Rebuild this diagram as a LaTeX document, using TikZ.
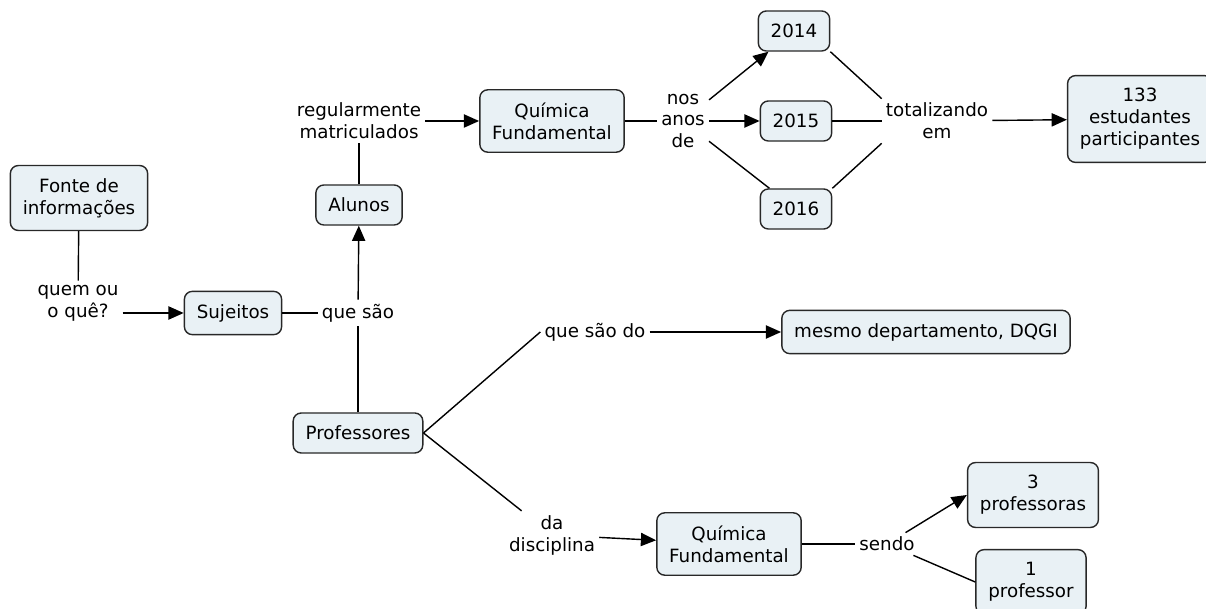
\documentclass[tikz,border=0pt]{standalone}
\usepackage{fontspec}
\setmainfont{DejaVu Sans}
\usetikzlibrary{arrows.meta}
\definecolor{conceptfill}{RGB}{233,241,245}
\definecolor{conceptline}{RGB}{40,40,40}
\tikzstyle{concept}=[draw=conceptline, fill=conceptfill, rounded corners=0.2cm, align=center, inner xsep=0.31cm, inner ysep=0.32cm, minimum height=1cm]
\tikzstyle{link}=[align=center, inner sep=0.09cm]

\begin{document}
\begin{tikzpicture}[x=0.025cm,y=-0.025cm,line width=1pt,>={Triangle[length=0.38cm,width=0.33cm]},font=\fontsize{13}{15.6}\selectfont]
\useasboundingbox (0,0) rectangle (1206,609);
\node [concept] (fonte) at (79,198) {Fonte de\\informações};
\node [link] (quem) at (78,303) {quem ou\\o quê?};
\node [concept] (suj) at (233,313) {Sujeitos};
\node [link] (qs) at (358,313) {que são};
\node [concept] (alunos) at (359,205) {Alunos};
\node [link] (reg) at (359,121) {regularmente\\matriculados};
\node [concept] (qf1) at (552,121) {Química\\Fundamental};
\node [link] (anos) at (683,121) {nos\\anos\\de};
\node [concept] (y14) at (794,31) {2014};
\node [concept] (y15) at (796,121) {2015};
\node [concept] (y16) at (796,209) {2016};
\node [link] (tot) at (937,121) {totalizando\\em};
\node [concept] (n133) at (1140,119) {133\\estudantes\\participantes};
\node [concept] (prof) at (358,433) {Professores};
\node [link] (qsdo) at (595,332) {que são do};
\node [concept] (mesmo) at (926,332) {mesmo departamento, DQGI};
\node [link] (dadisc) at (552,535) {da\\disciplina};
\node [concept] (qf2) at (729,544) {Química\\Fundamental};
\node [link] (sendo) at (887,544) {sendo};
\node [concept] (prof3) at (1033,495) {3\\professoras};
\node [concept] (prof1) at (1031,582) {1\\professor};

\draw (fonte) -- (quem);
\draw[->] (quem.east |- suj) -- (suj);
\draw (suj) -- (qs);
\draw[->] (qs) -- (alunos);
\draw (prof) -- (qs);
\draw (alunos) -- (reg);
\draw[->] (reg) -- (qf1);
\draw (qf1) -- (anos);
\path[->] (anos) edge (y14)
          (anos) edge (y15);
\draw (anos) -- (y16);
\draw (y14.south east) -- (tot.north west);
\draw (y15) -- (tot);
\draw (y16.north east) -- (tot.south west);
\draw[->] (tot) -- (n133);
\draw (prof.east) -- (qsdo.west);
\draw[->] (qsdo) -- (mesmo);
\draw (prof.east) -- (dadisc);
\draw[->] (dadisc) -- (qf2);
\draw (qf2) -- (sendo);
\draw[->] (sendo) -- (prof3.west);
\draw (sendo) -- (prof1.west);
\end{tikzpicture}
\end{document}
